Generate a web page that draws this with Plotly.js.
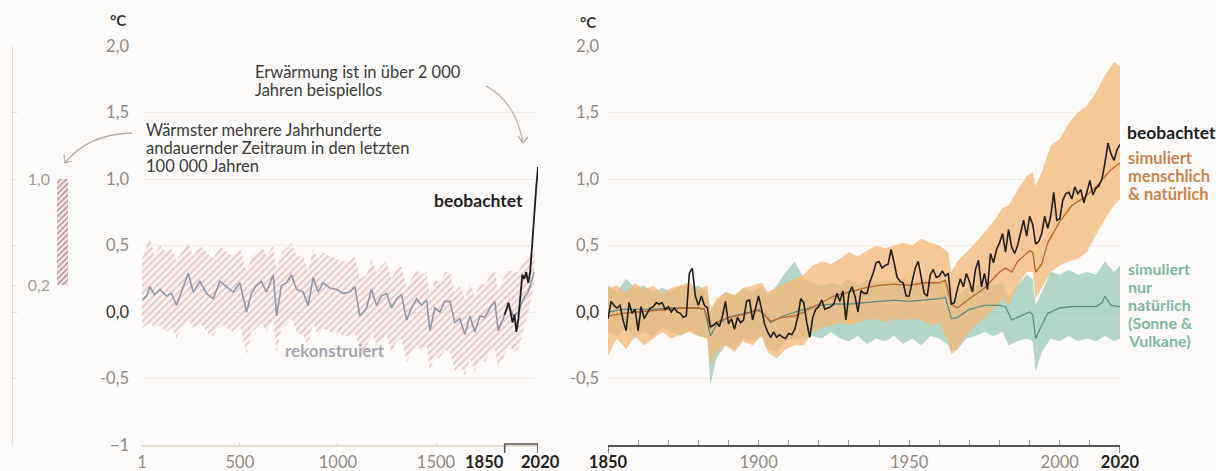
<!DOCTYPE html>
<html><head><meta charset="utf-8">
<script src="https://cdn.plot.ly/plotly-3.0.1.min.js"></script>
<style>html,body{margin:0;padding:0;background:#fcfbf9;}#chart{width:1216px;height:471px;}</style>
</head><body><div id="chart"></div>
<script>
// ---------- DATA ----------
// Left panel: reconstructed (years 1-2000)
const reconYears = [1,24,41,66,92,126,151,177,202,236,262,296,330,364,398,432,466,500,534,559,585,610,636,670,687,712,738,763,789,823,848,874,899,925,959,993,1027,1061,1086,1112,1146,1171,1197,1222,1248,1273,1299,1324,1350,1375,1401,1426,1452,1469,1494,1520,1545,1571,1596,1622,1647,1673,1698,1724,1749,1775,1800,1817,1843,1868,1894,1920,1945,1970,2000];
const reconValues = [0.09,0.12,0.19,0.13,0.17,0.12,0.14,0.05,0.15,0.29,0.15,0.23,0.14,0.10,0.23,0.19,0.15,0.22,0.0,0.14,0.2,0.23,0.15,0.28,-0.03,0.2,0.22,0.28,0.17,0.15,0.05,0.26,0.15,0.22,0.18,0.17,0.14,0.15,0.19,-0.03,0.03,0.17,0.05,0.12,0.14,0.03,0.1,0.13,-0.06,0.03,0.1,0.05,0.09,-0.14,0.03,0.0,0.08,0.08,-0.08,-0.05,-0.17,-0.03,-0.15,-0.03,-0.04,0.03,0.08,-0.14,-0.05,0.06,-0.03,0.0,0.1,0.15,0.3];
const reconUpper = [0.4,0.5,0.55,0.42,0.5,0.45,0.48,0.38,0.45,0.52,0.42,0.5,0.45,0.4,0.5,0.45,0.42,0.48,0.3,0.42,0.45,0.5,0.42,0.5,0.3,0.45,0.48,0.52,0.42,0.42,0.3,0.48,0.4,0.45,0.42,0.4,0.38,0.38,0.42,0.25,0.28,0.4,0.3,0.35,0.38,0.25,0.32,0.35,0.18,0.25,0.32,0.28,0.3,0.12,0.25,0.22,0.3,0.3,0.15,0.2,0.1,0.22,0.12,0.22,0.2,0.28,0.32,0.15,0.25,0.32,0.3,0.3,0.38,0.42,0.45];
const reconLower = [-0.12,-0.1,-0.08,-0.12,-0.1,-0.15,-0.12,-0.2,-0.12,-0.05,-0.12,-0.08,-0.15,-0.18,-0.08,-0.12,-0.15,-0.1,-0.32,-0.15,-0.12,-0.08,-0.15,-0.05,-0.32,-0.12,-0.1,-0.05,-0.15,-0.18,-0.25,-0.08,-0.18,-0.12,-0.15,-0.15,-0.18,-0.18,-0.15,-0.3,-0.28,-0.15,-0.25,-0.2,-0.18,-0.3,-0.22,-0.2,-0.38,-0.3,-0.25,-0.3,-0.25,-0.45,-0.32,-0.35,-0.28,-0.3,-0.45,-0.4,-0.48,-0.35,-0.45,-0.35,-0.38,-0.3,-0.28,-0.42,-0.35,-0.25,-0.3,-0.28,-0.15,0.0,0.2];
// Left panel: observed (decadal)
const obsDecadeYears = [1850,1860,1870,1880,1890,1900,1910,1920,1930,1940,1950,1960,1970,1980,1990,2000,2010,2020];
const obsDecadeValues = [-0.02,0.02,0.07,0.0,-0.08,-0.02,-0.15,-0.05,0.1,0.28,0.25,0.3,0.22,0.3,0.5,0.75,0.92,1.09];
// Warmest multi-century period in 100 000 years (range)
const warmPeriodRange = [0.2, 1.0];

// Right panel: observed annual 1850-2020
const obsYears = [];
for (let y = 1850; y <= 2020; y++) obsYears.push(y);
const obsValues = [-0.05,0.08,0.05,0.03,0.05,-0.06,-0.14,0.07,-0.01,0.02,
-0.14,0.04,-0.05,-0.01,0.03,0.04,0.07,0.06,0.07,0.02,
0.04,0.0,0.03,0.0,-0.01,-0.04,-0.03,0.29,0.33,0.12,
0.05,0.12,0.05,0.03,-0.11,-0.1,-0.08,-0.11,-0.03,0.08,
-0.09,-0.05,-0.13,-0.04,-0.08,-0.06,0.08,0.09,-0.06,0.03,
0.12,0.02,-0.09,-0.15,-0.19,-0.15,-0.19,-0.17,-0.19,-0.2,
-0.16,-0.17,-0.13,-0.04,0.1,0.07,-0.08,-0.19,-0.04,0.02,
0.04,0.09,0.02,0.03,0.04,0.06,0.14,0.08,0.16,-0.06,
0.14,0.19,0.12,0.0,0.16,0.14,0.14,0.23,0.29,0.37,
0.38,0.33,0.35,0.36,0.47,0.37,0.26,0.23,0.22,0.12,
0.12,0.23,0.33,0.38,0.27,0.14,0.12,0.28,0.32,0.26,
0.27,0.31,0.27,0.29,0.06,0.07,0.17,0.25,0.19,0.29,
0.23,0.15,0.32,0.39,0.19,0.29,0.17,0.44,0.37,0.47,
0.52,0.59,0.45,0.62,0.49,0.44,0.5,0.59,0.69,0.57,
0.72,0.66,0.51,0.53,0.59,0.72,0.63,0.72,0.9,0.69,
0.7,0.84,0.89,0.9,0.85,0.94,0.89,0.92,0.82,0.9,
0.99,0.88,0.93,0.95,1.0,1.12,1.27,1.19,1.14,1.22,
1.26];
// Right panel: simulated means
const simYears = [1850,1855,1860,1865,1870,1875,1880,1882,1884,1886,1890,1895,1900,1902,1904,1908,1912,1915,1920,1925,1930,1935,1940,1945,1950,1955,1960,1962,1964,1966,1970,1975,1980,1982,1984,1986,1990,1991,1992,1994,1996,2000,2004,2008,2012,2014,2015,2017,2020];
const simHumanNatural = [-0.03,-0.01,0.0,0.01,0.02,0.03,0.03,0.02,-0.12,-0.08,-0.04,-0.02,0.02,-0.02,-0.07,-0.04,-0.03,0.0,0.06,0.12,0.15,0.18,0.2,0.21,0.2,0.22,0.22,0.24,0.06,0.03,0.1,0.18,0.3,0.33,0.3,0.38,0.46,0.45,0.3,0.36,0.52,0.68,0.8,0.86,0.94,0.99,1.02,1.07,1.12];
const simNatural = [0.0,0.02,0.02,0.02,0.03,0.03,0.03,0.02,-0.18,-0.1,-0.04,-0.01,0.01,-0.02,-0.08,-0.03,0.0,0.02,0.05,0.06,0.06,0.07,0.08,0.09,0.08,0.09,0.1,0.11,-0.05,-0.04,0.02,0.05,0.05,0.04,-0.06,-0.04,0.0,-0.02,-0.2,-0.1,-0.01,0.03,0.04,0.04,0.04,0.07,0.12,0.05,0.04];
// Right panel: simulated ranges
const bandYears = [1850,1853,1856,1859,1862,1865,1868,1871,1874,1877,1880,1883,1884,1886,1889,1892,1895,1898,1901,1903,1906,1909,1912,1915,1918,1921,1924,1927,1930,1933,1936,1939,1942,1945,1948,1951,1954,1957,1960,1963,1964,1966,1969,1972,1975,1978,1981,1983,1986,1989,1991,1992,1994,1997,2000,2003,2006,2009,2012,2015,2018,2020];
const hnUpper = [0.18,0.2,0.15,0.22,0.17,0.2,0.14,0.18,0.2,0.22,0.17,0.2,0.02,0.1,0.15,0.13,0.18,0.2,0.22,0.15,0.18,0.22,0.25,0.28,0.35,0.38,0.36,0.4,0.45,0.42,0.46,0.5,0.48,0.5,0.52,0.5,0.55,0.52,0.5,0.45,0.3,0.38,0.45,0.52,0.6,0.68,0.78,0.8,0.92,1.02,1.05,0.95,1.05,1.25,1.3,1.42,1.5,1.55,1.65,1.78,1.88,1.85];
const hnLower = [-0.33,-0.2,-0.28,-0.18,-0.25,-0.2,-0.15,-0.2,-0.17,-0.15,-0.18,-0.2,-0.4,-0.3,-0.25,-0.3,-0.22,-0.25,-0.18,-0.3,-0.35,-0.28,-0.25,-0.25,-0.15,-0.12,-0.1,-0.08,-0.1,-0.08,-0.06,-0.05,-0.08,-0.05,-0.06,-0.05,-0.06,-0.1,-0.08,-0.22,-0.32,-0.28,-0.18,-0.1,-0.05,0.02,0.1,0.05,0.2,0.3,0.3,0.1,0.18,0.3,0.35,0.38,0.4,0.45,0.58,0.7,0.8,0.85];
const natUpper = [0.2,0.15,0.25,0.18,0.2,0.15,0.18,0.15,0.2,0.18,0.2,0.15,0.0,0.08,0.15,0.12,0.18,0.15,0.2,0.12,0.2,0.3,0.38,0.25,0.22,0.2,0.22,0.2,0.25,0.2,0.24,0.22,0.25,0.22,0.25,0.22,0.25,0.22,0.25,0.2,0.08,0.12,0.18,0.2,0.22,0.2,0.22,0.12,0.2,0.28,0.25,0.05,0.15,0.3,0.28,0.32,0.28,0.3,0.28,0.38,0.3,0.35];
const natLower = [-0.15,-0.18,-0.12,-0.2,-0.15,-0.18,-0.12,-0.15,-0.18,-0.14,-0.18,-0.2,-0.55,-0.35,-0.25,-0.28,-0.2,-0.22,-0.18,-0.28,-0.3,-0.22,-0.2,-0.2,-0.18,-0.2,-0.15,-0.2,-0.22,-0.18,-0.24,-0.2,-0.22,-0.18,-0.24,-0.2,-0.25,-0.18,-0.2,-0.25,-0.3,-0.28,-0.2,-0.18,-0.15,-0.18,-0.15,-0.25,-0.22,-0.2,-0.22,-0.45,-0.3,-0.2,-0.22,-0.18,-0.22,-0.2,-0.22,-0.18,-0.22,-0.2];

// Tick labels
const yTickVals = [-1,-0.5,0,0.5,1,1.5,2];
const yTickTextLeft = ['\u22121','-0,5','0,0','0,5','1,0','1,5','2,0'];
const yTickTextRight = ['','-0,5','0,0','0,5','1,0','1,5','2,0'];
const leftXTickVals = [1,500,1000,1500];
const leftXTickText = ['1','500','1000','1500'];
const leftBracketYears = [1850, 2020];
const rightXLabels = {1850:'1850',1900:'1900',1950:'1950',2000:'2000',2020:'2020'};
const miniTickVals = [-1,-0.5,0,0.2,0.5,1,1.5,2];
const miniTickText = ['','','','0,2','','1,0','',''];

// ---------- LAYOUT HELPERS ----------
const W = 1216, H = 471;
const fx = x => x / W;
const fy = y => 1 - y / H;
const FONT = 'Lato, "Open Sans", sans-serif';
const GREY = '#8e8984', DARK = '#333333';
const yDom = [fy(445), fy(46)];

function fmtY(t){ return t === '0,0' ? '<span style="color:'+DARK+'">'+t+'</span>' : t; }
function boldTick(t){ return '<b><span style="color:#222">'+t+'</span></b>'; }

const rightTickVals = [], rightTickText = [];
for (let y = 1850; y <= 2020; y += 10) {
  rightTickVals.push(y);
  const l = rightXLabels[y] || '';
  rightTickText.push((y === 1850 || y === 2020) ? boldTick(l) : l);
}

const traces = [
  {x: reconYears, y: reconUpper, xaxis:'x', yaxis:'y', mode:'lines', line:{width:0, color:'rgba(0,0,0,0)'}, hoverinfo:'skip', showlegend:false},
  {x: reconYears, y: reconLower, xaxis:'x', yaxis:'y', mode:'lines', line:{width:0, color:'rgba(0,0,0,0)'}, fill:'tonexty',
   fillcolor:'rgba(0,0,0,0)', fillpattern:{shape:'/', fgcolor:'#e6c3c5', bgcolor:'rgba(245,225,225,0.25)', size:5, solidity:0.35}, hoverinfo:'skip', showlegend:false},
  {x: reconYears, y: reconValues, xaxis:'x', yaxis:'y', mode:'lines', line:{width:1.6, color:'#8d95a6'}, showlegend:false},
  {x: obsDecadeYears, y: obsDecadeValues, xaxis:'x', yaxis:'y', mode:'lines', line:{width:1.8, color:'#1e1e1e'}, showlegend:false},
  {type:'bar', x:[0.8], y:[warmPeriodRange[1]-warmPeriodRange[0]], base:[warmPeriodRange[0]], width:[0.19], xaxis:'x3', yaxis:'y3',
   marker:{color:'rgba(0,0,0,0)', line:{width:0}, pattern:{shape:'/', fgcolor:'#bb959c', bgcolor:'rgba(230,205,210,0.3)', size:4, solidity:0.45}}, showlegend:false, hoverinfo:'skip'},
  {x: bandYears, y: natUpper, xaxis:'x2', yaxis:'y2', mode:'lines', line:{width:0, color:'rgba(0,0,0,0)'}, hoverinfo:'skip', showlegend:false},
  {x: bandYears, y: natLower, xaxis:'x2', yaxis:'y2', mode:'lines', line:{width:0, color:'rgba(0,0,0,0)'}, fill:'tonexty', fillcolor:'rgba(128,188,164,0.58)', hoverinfo:'skip', showlegend:false},
  {x: bandYears, y: hnUpper, xaxis:'x2', yaxis:'y2', mode:'lines', line:{width:0, color:'rgba(0,0,0,0)'}, hoverinfo:'skip', showlegend:false},
  {x: bandYears, y: hnLower, xaxis:'x2', yaxis:'y2', mode:'lines', line:{width:0, color:'rgba(0,0,0,0)'}, fill:'tonexty', fillcolor:'rgba(246,183,117,0.75)', hoverinfo:'skip', showlegend:false},
  {x: simYears, y: simNatural, xaxis:'x2', yaxis:'y2', mode:'lines', line:{width:1.3, color:'#5e8f80'}, showlegend:false},
  {x: simYears, y: simHumanNatural, xaxis:'x2', yaxis:'y2', mode:'lines', line:{width:1.3, color:'#b8662a'}, showlegend:false},
  {x: obsYears, y: obsValues, xaxis:'x2', yaxis:'y2', mode:'lines', line:{width:1.6, color:'#1e1e1e'}, showlegend:false}
];

const tickFont = {family: FONT, size: 16.5, color: GREY};
const layout = {
  width: W, height: H,
  margin: {l:0, r:0, t:0, b:0, pad:0},
  paper_bgcolor: '#fcfbf9', plot_bgcolor: '#fcfbf9',
  font: {family: FONT, color: DARK},
  showlegend: false,
  xaxis: {domain:[fx(142), fx(538)], range:[1, 2020], anchor:'y', showgrid:false, zeroline:false,
    showline:true, linecolor:'#e3d9cf', linewidth:1.5, ticks:'inside', ticklen:3, tickcolor:'#e3d9cf',
    tickvals: leftXTickVals, ticktext: leftXTickText, tickangle: 0,
    tickfont: tickFont, ticklabelstandoff: 2, automargin:false, fixedrange:true},
  yaxis: {domain: yDom, range:[-1, 2], anchor:'x', showgrid:true, gridcolor:'#f1ece6', gridwidth:1, zeroline:false,
    showline:false, ticks:'', tickvals: yTickVals, ticktext: yTickTextLeft.map(fmtY), tickfont: tickFont,
    ticklabelstandoff: 12, automargin:false, fixedrange:true},
  xaxis2: {domain:[fx(608), fx(1120)], range:[1850, 2020], anchor:'y2', showgrid:false, zeroline:false,
    showline:true, linecolor:'#555555', linewidth:1.5, ticks:'inside', ticklen:5, tickcolor:'#9a9a9a', tickwidth:1,
    tickvals: rightTickVals, ticktext: rightTickText, tickangle: 0, tickfont: tickFont, ticklabelstandoff: 2, automargin:false, fixedrange:true},
  yaxis2: {domain: yDom, range:[-1, 2], anchor:'x2', showgrid:true, gridcolor:'#f1ece6', gridwidth:1, zeroline:false,
    showline:false, ticks:'', tickvals: yTickVals, ticktext: yTickTextRight.map(fmtY), tickfont: tickFont,
    ticklabelstandoff: 8, automargin:false, fixedrange:true},
  xaxis3: {domain:[fx(13), fx(75)], range:[0,1], anchor:'y3', visible:false, fixedrange:true},
  yaxis3: {domain: yDom, range:[-1, 2], anchor:'x3', side:'left', showgrid:false, zeroline:false,
    showline:true, linecolor:'#e6dcd3', linewidth:1.5, ticks:'inside', ticklen:4, tickcolor:'#e6dcd3',
    tickvals: miniTickVals, ticktext: miniTickText, ticklabelposition:'inside', ticklabelstandoff: 11,
    tickfont: {family: FONT, size: 16, color: '#a29c97'}, automargin:false, fixedrange:true},
  bargap: 0,
  shapes: [],
  annotations: []
};

// bracket 1850-2020 under left axis
layout.shapes.push({type:'path', xref:'x', yref:'paper',
  path: 'M '+leftBracketYears[0]+' '+fy(453)+' L '+leftBracketYears[0]+' '+fy(444)+' L '+leftBracketYears[1]+' '+fy(444)+' L '+leftBracketYears[1]+' '+fy(453),
  line:{color:'#555555', width:1.6}});
// bracket labels
layout.annotations.push({xref:'x', yref:'paper', x:leftBracketYears[0], y:fy(462), text:'<b>'+leftBracketYears[0]+'</b>', showarrow:false,
  xanchor:'right', yanchor:'middle', xshift:1, font:{family:FONT, size:16.5, color:'#222'}});
layout.annotations.push({xref:'x', yref:'paper', x:leftBracketYears[1], y:fy(462), text:'<b>'+leftBracketYears[1]+'</b>', showarrow:false,
  xanchor:'center', yanchor:'middle', xshift:2, font:{family:FONT, size:16.5, color:'#222'}});
// right axis end ticks
[1850, 2020].forEach(v => layout.shapes.push({type:'line', xref:'x2', yref:'paper', x0:v, x1:v, y0:fy(445), y1:fy(453), line:{color:'#555555', width:1.5}}));
// curved arrows
function arrow(p0, c, p1, head){
  layout.shapes.push({type:'path', xref:'paper', yref:'paper',
    path:'M '+fx(p0[0])+' '+fy(p0[1])+' Q '+fx(c[0])+' '+fy(c[1])+' '+fx(p1[0])+' '+fy(p1[1]),
    line:{color:'#b9aaa2', width:1.3}});
  layout.shapes.push({type:'path', xref:'paper', yref:'paper',
    path:'M '+fx(head[0][0])+' '+fy(head[0][1])+' L '+fx(p1[0])+' '+fy(p1[1])+' L '+fx(head[1][0])+' '+fy(head[1][1]),
    line:{color:'#b9aaa2', width:1.3}});
}
arrow([486,86],[516,102],[523,143],[[518,136],[528,137]]);
arrow([132,133],[88,134],[65,163],[[64,155],[72,161]]);

function lines(arr, x, y0, dy, size, color, weight, anchor){
  arr.forEach((t,i)=> layout.annotations.push({xref:'paper', yref:'paper', x:fx(x), y:fy(y0+i*dy), text:t, showarrow:false,
    xanchor: anchor || 'left', yanchor:'middle', font:{family:FONT, size:size, color:color, weight:weight||400}}));
}
lines(['°C'], 108, 20, 0, 15, DARK, 700);
lines(['°C'], 578, 22, 0, 15, DARK, 700);
lines(['Erwärmung ist in über 2 000','Jahren beispiellos'], 253, 72, 17.8, 16.5, '#3a3a3a');
lines(['Wärmster mehrere Jahrhunderte','andauernder Zeitraum in den letzten','100 000 Jahren'], 144, 130, 17.8, 16.5, '#3a3a3a');
lines(['beobachtet'], 525, 200, 0, 17.5, '#1e1e1e', 700, 'right');
lines(['rekonstruiert'], 283, 350, 0, 17, '#a6a6ae', 700);
lines(['beobachtet'], 1125, 133, 0, 17.5, '#1e1e1e', 700);
lines(['simuliert','menschlich','& natürlich'], 1126, 158, 17.8, 16.5, '#c8864c', 700);
lines(['simuliert','nur','natürlich','(Sonne &','Vulkane)'], 1126, 268, 18, 16, '#7fb6a3', 700);

Plotly.newPlot('chart', traces, layout, {staticPlot:true, displayModeBar:false});
</script></body></html>
